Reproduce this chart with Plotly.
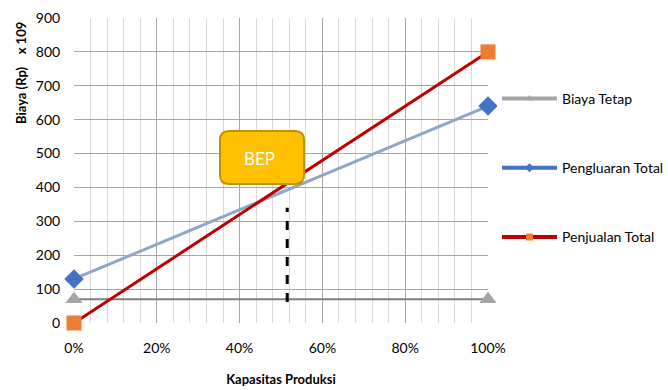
import plotly.graph_objects as go

kapasitas = [0.0, 1.0]
biaya_tetap = [70, 70]
pengeluaran_total = [130, 640]
penjualan_total = [0, 800]
bep_x = [0.515, 0.515]
bep_y = [62, 340]
series_names = ["Biaya Tetap", "Pengluaran Total", "Penjualan Total"]

FONT = "Lato, Carlito, 'Liberation Sans', sans-serif"
PW, PH, L, T = 414, 305, 74, 18

fig = go.Figure()

fig.add_trace(go.Scatter(x=kapasitas, y=biaya_tetap, mode="lines+markers",
                         line=dict(color="#7F7F7F", width=2),
                         marker=dict(symbol="triangle-up", size=15, color="#A5A5A5"),
                         cliponaxis=False, showlegend=False))
fig.add_trace(go.Scatter(x=kapasitas, y=pengeluaran_total, mode="lines+markers",
                         line=dict(color="#8FA6C6", width=3),
                         marker=dict(symbol="diamond", size=15, color="#4472C4"),
                         cliponaxis=False, showlegend=False))
fig.add_trace(go.Scatter(x=kapasitas, y=penjualan_total, mode="lines+markers",
                         line=dict(color="#C00000", width=3),
                         marker=dict(symbol="square", size=15, color="#ED7D31"),
                         cliponaxis=False, showlegend=False))
fig.add_trace(go.Scatter(x=bep_x, y=bep_y, mode="lines",
                         line=dict(color="black", width=3, dash="dash"),
                         showlegend=False, hoverinfo="skip"))

leg_styles = [
    dict(line=dict(color="#A5A5A5", width=4), marker=dict(symbol="triangle-up", size=7, color="#A5A5A5")),
    dict(line=dict(color="#4472C4", width=4), marker=dict(symbol="diamond", size=7, color="#4472C4")),
    dict(line=dict(color="#C00000", width=4), marker=dict(symbol="square", size=7, color="#ED7D31")),
]
for i, (nm, st) in enumerate(zip(series_names, leg_styles)):
    fig.add_trace(go.Scatter(x=[None], y=[None], mode="lines+markers", name=nm,
                             legendgroup=f"g{i}", **st))


def px2paper(x, y):
    return (x - L) / PW, (T + PH - y) / PH


def rounded_rect(x0, y0, x1, y1, r):
    a = px2paper
    p = []
    p.append("M %f,%f" % a(x0 + r, y0))
    p.append("L %f,%f" % a(x1 - r, y0))
    p.append("Q %f,%f %f,%f" % (*a(x1, y0), *a(x1, y0 + r)))
    p.append("L %f,%f" % a(x1, y1 - r))
    p.append("Q %f,%f %f,%f" % (*a(x1, y1), *a(x1 - r, y1)))
    p.append("L %f,%f" % a(x0 + r, y1))
    p.append("Q %f,%f %f,%f" % (*a(x0, y1), *a(x0, y1 - r)))
    p.append("L %f,%f" % a(x0, y0 + r))
    p.append("Q %f,%f %f,%f" % (*a(x0, y0), *a(x0 + r, y0)))
    p.append("Z")
    return " ".join(p)


fig.add_shape(type="path", xref="paper", yref="paper",
              path=rounded_rect(220, 131, 304, 184, 9),
              fillcolor="#FFC000", line=dict(color="#BF9000", width=2), layer="above")
bx, by = px2paper(259, 158)
fig.add_annotation(x=bx, y=by, xref="paper", yref="paper",
                   text="BEP", showarrow=False, font=dict(color="white", size=17, family=FONT))

tx, ty = px2paper(21, 73)
fig.add_annotation(x=tx, y=ty, xref="paper", yref="paper", textangle=-90,
                   xanchor="center", yanchor="middle",
                   text="<b>Biaya (Rp)    x 109</b>", showarrow=False,
                   font=dict(size=13, family=FONT, color="black"))

fig.update_layout(
    width=668, height=390,
    margin=dict(l=L, r=668 - L - PW, t=T, b=390 - T - PH, autoexpand=False),
    paper_bgcolor="white", plot_bgcolor="white",
    font=dict(family=FONT, size=14, color="#000000"),
    legend=dict(x=(497 - L) / PW, y=(323 - 83) / 305, xanchor="left", yanchor="top",
                tracegroupgap=48, font=dict(size=14), itemwidth=55),
    xaxis=dict(range=[0, 1], tickvals=[0, 0.2, 0.4, 0.6, 0.8, 1.0], tickformat=".0%",
               showgrid=True, gridcolor="#A6A6A6", gridwidth=1,
               minor=dict(dtick=0.04, showgrid=True, gridcolor="#D9D9D9", gridwidth=1),
               zeroline=False, showline=False, automargin=False,
               ticks="outside", ticklen=12, tickcolor="rgba(0,0,0,0)",
               title=dict(text="<b>Kapasitas Produksi</b>", font=dict(size=13), standoff=20)),
    yaxis=dict(range=[0, 900], dtick=100, showgrid=True, gridcolor="#A6A6A6", gridwidth=1,
               zeroline=False, showline=False, automargin=False,
               ticks="outside", ticklen=10, tickcolor="rgba(0,0,0,0)"),
)

fig.write_html("out.html")
